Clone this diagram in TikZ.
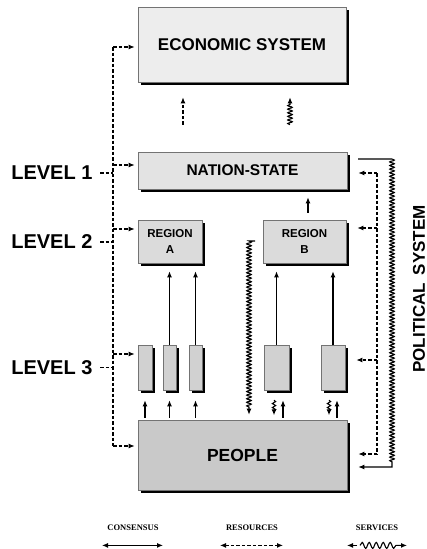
\documentclass[tikz,border=0pt]{standalone}
\usepackage{fontspec}
\setmainfont{Liberation Sans}
\newfontfamily\legendfont{Liberation Serif}
\usetikzlibrary{arrows.meta,positioning,shadows,decorations.pathmorphing,calc}

\begin{document}
\begin{tikzpicture}[
    x=1pt, y=-1pt,
    >={Latex[length=6pt,width=5pt]},
    box/.style={rectangle, draw=black!55, line width=0.6pt, inner sep=0pt, align=center, font=\bfseries, drop shadow={shadow xshift=3pt, shadow yshift=-3pt, fill=black, opacity=1}},
    flow/.style={line width=1.1pt},
    dline/.style={line width=1.3pt, dash pattern=on 3.5pt off 2pt},
    waves/.style={decoration={snake, amplitude=2.3pt, segment length=3.6pt}},
    tinywave/.style={decoration={snake, amplitude=1.6pt, segment length=4pt}},
    legwave/.style={decoration={snake, amplitude=3pt, segment length=7pt}},
    level/.style={anchor=east, font=\fontsize{20}{24}\selectfont\bfseries},
    legend/.style={font=\legendfont\fontsize{8.5}{10}\selectfont\bfseries}
]
\useasboundingbox (0,0) rectangle (427,549);

% boxes
\node[box, fill=black!7, minimum width=208pt, minimum height=75pt, font=\fontsize{17}{20}\selectfont\bfseries] (econ) at (242,44.5) {ECONOMIC SYSTEM};
\node[box, fill=black!11, minimum width=209pt, minimum height=37pt, font=\fontsize{15.5}{18}\selectfont\bfseries] (nation) at (242.5,170.5) {NATION-STATE};
\node[box, fill=black!14, minimum width=64pt, minimum height=43pt, font=\fontsize{11.5}{16.5}\selectfont\bfseries] (regA) at (170,241.5) {REGION\\A};
\node[box, fill=black!14, minimum width=83pt, minimum height=43pt, font=\fontsize{11.5}{16.5}\selectfont\bfseries] (regB) at (304.5,241.5) {REGION\\B};
\node[box, fill=black!18, minimum width=14pt, minimum height=45pt] (la1) at (145,367.5) {};
\node[box, fill=black!18, minimum width=13pt, minimum height=45pt] (la2) at (169.5,367.5) {};
\node[box, fill=black!18, minimum width=13pt, minimum height=45pt] (la3) at (195.5,367.5) {};
\node[box, fill=black!18, minimum width=25pt, minimum height=45pt] (lb1) at (276.5,367.5) {};
\node[box, fill=black!18, minimum width=24pt, minimum height=45pt] (lb2) at (333,367.5) {};
\node[box, fill=black!21, minimum width=209pt, minimum height=70pt, font=\fontsize{17.5}{20}\selectfont\bfseries] (people) at (242.5,455) {PEOPLE};

% levels
\node[level] (lev1) at (96,173) {LEVEL 1};
\node[level] (lev2) at (96,242) {LEVEL 2};
\node[level] (lev3) at (96,367.5) {LEVEL 3};
\node[rotate=90, font=\fontsize{17}{20}\selectfont\bfseries] (pol) at (419,289) {POLITICAL\hspace{0.45em}SYSTEM};

% left dashed bus
\coordinate (lt) at (113,47);
\coordinate (l1) at (113,165);
\coordinate (l2) at (113,229);
\coordinate (l3) at (113,354);
\coordinate (lb) at (113,446);
\draw[dline] (lt) -- (lb);
\draw[dline,->,shorten >=3pt] (lt) -- (lt -| econ.west);
\draw[dline,->,shorten >=3pt] (l1) -- (l1 -| nation.west);
\draw[dline,->,shorten >=3pt] (l2) -- (l2 -| regA.west);
\draw[dline,->,shorten >=3pt] (l3) -- (l3 -| la1.west);
\draw[dline,->,shorten >=3pt] (lb) -- (lb -| people.west);
\draw[dline] ([xshift=4pt]lev1.east) -- (lev1.east -| lt);
\draw[dline] ([xshift=4pt]lev2.east) -- (lev2.east -| lt);
\draw[dline] ([xshift=4pt]lev3.east) -- (lev3.east -| lt);

% right dashed bus
\coordinate (rt) at (377,173);
\coordinate (r1) at (377,228);
\coordinate (r2) at (377,360);
\coordinate (rb) at (377,454);
\draw[dline] (rt) -- (rb);
\draw[dline,->,shorten >=11pt] (rt) -- (rt -| nation.east);
\draw[dline,->,shorten >=11pt] (r1) -- (r1 -| regB.east);
\draw[dline,->,shorten >=11pt] (r2) -- (r2 -| lb2.east);
\draw[dline,->,shorten >=11pt] (rb) -- (rb -| people.east);

% right services loop
\coordinate (ws) at (358,159);
\coordinate (wc) at (392,159);
\coordinate (wp) at (392,467);
\draw[flow,->,shorten >=11pt] (ws) -- (wc) decorate[waves]{-- ($(wp)+(0,-4)$)} -- (wp) -- (wp -| people.east);

% nation-state to economic system
\draw[dline,->] ($(nation.north)+(-59.5,-27)$) -- ($(econ.south)+(-59,15)$);
\draw[flow,->] ($(nation.north)+(47.5,-27)$) decorate[waves]{-- ($(econ.south)+(48,21)$)} -- ($(econ.south)+(48,15)$);
\draw[flow,->,shorten <=7pt,shorten >=8pt] ($(regB.north)+(3.5,0)$) -- ($(nation.south)+(65.5,0)$);

% middle services line
\coordinate (mh) at (255,241);
\coordinate (mt) at (249,241);
\draw[flow,->] (mh) -- (mt) decorate[waves]{-- ($(mt |- people.north)+(0,-12)$)} -- ($(mt |- people.north)+(0,-5)$);

% level 3 to regions
\draw[flow,->,shorten >=8pt] (la2.north) -- (la2.north |- regA.south);
\draw[flow,->,shorten >=8pt] (la3.north) -- (la3.north |- regA.south);
\draw[flow,->,shorten >=8pt] (lb1.north) -- (lb1.north |- regB.south);
\draw[flow,->,shorten >=8pt] (lb2.north) -- (lb2.north |- regB.south);

% people to level 3
\draw[flow,->,shorten <=2pt,shorten >=10pt] (la1.south |- people.north) -- (la1.south);
\draw[flow,->,shorten <=2pt,shorten >=10pt] (la2.south |- people.north) -- (la2.south);
\draw[flow,->,shorten <=2pt,shorten >=10pt] (la3.south |- people.north) -- (la3.south);
\draw[flow,->,shorten <=2pt,shorten >=10pt] ($(lb1.south |- people.north)+(6.5,0)$) -- ($(lb1.south)+(6.5,0)$);
\draw[flow,->,shorten <=2pt,shorten >=10pt] ($(lb2.south |- people.north)+(4,0)$) -- ($(lb2.south)+(4,0)$);
\draw[flow,->] ($(lb1.south)+(-2.5,10)$) decorate[tinywave]{-- ($(lb1.south)+(-2.5,21)$)} -- ($(lb1.south)+(-2.5,25)$);
\draw[flow,->] ($(lb2.south)+(-4,10)$) decorate[tinywave]{-- ($(lb2.south)+(-4,21)$)} -- ($(lb2.south)+(-4,25)$);

% legend
\node[legend] (cons) at (133,528) {CONSENSUS};
\node[legend] (res) at (252,528) {RESOURCES};
\node[legend] (serv) at (377,528) {SERVICES};
\draw[flow,<->] ($(cons.south)+(-31,11)$) -- ($(cons.south)+(30,11)$);
\draw[dline,line width=1.1pt,<->] ($(res.south)+(-32,11)$) -- ($(res.south)+(31,11)$);
\draw[flow,->] ($(serv.south)+(-20,11)$) -- ($(serv.south)+(-30,11)$);
\draw[flow,->] ($(serv.south)+(-17,11)$) decorate[legwave]{-- ($(serv.south)+(20,11)$)} -- ($(serv.south)+(30,11)$);

\end{tikzpicture}
\end{document}
